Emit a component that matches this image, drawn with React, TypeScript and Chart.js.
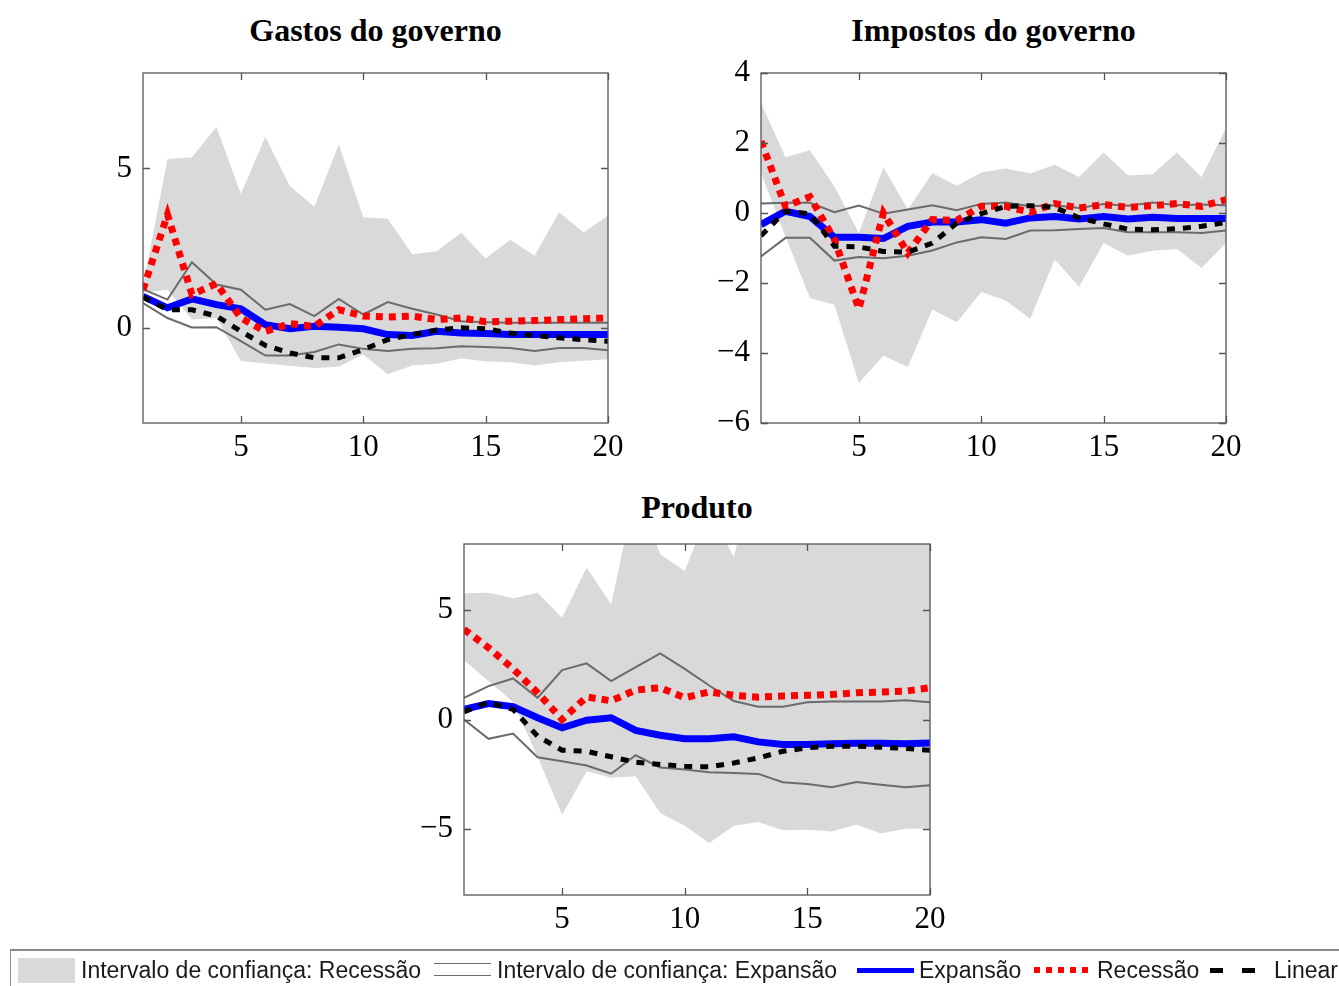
import React, { useEffect, useRef, useState } from 'react';
import { Chart, registerables } from 'chart.js';

Chart.register(...registerables);

// ---------- data ----------
const periods = [1, 2, 3, 4, 5, 6, 7, 8, 9, 10, 11, 12, 13, 14, 15, 16, 17, 18, 19, 20];
const xTickValues = [5, 10, 15, 20];

// Gastos do governo
const gastosYTicks = [0, 5];
const gastosBandUpper = [1.3, 5.3, 5.35, 6.3, 4.2, 6.0, 4.45, 3.8, 5.75, 3.47, 3.42, 2.3, 2.4, 2.98, 2.17, 2.76, 2.26, 3.62, 2.99, 3.52];
const gastosBandLower = [1.1, 1.19, 0.25, 0.3, -1.05, -1.13, -1.2, -1.27, -1.23, -0.85, -1.47, -1.19, -1.14, -0.97, -1.06, -1.09, -1.19, -1.09, -1.04, -1.0];
const gastosCiUpper = [1.21, 0.88, 2.05, 1.35, 1.19, 0.56, 0.74, 0.36, 0.9, 0.41, 0.8, 0.59, 0.41, 0.2, 0.17, 0.15, 0.15, 0.15, 0.15, 0.15];
const gastosCiLower = [0.77, 0.3, 0.0, 0.01, -0.43, -0.88, -0.88, -0.77, -0.53, -0.67, -0.74, -0.67, -0.65, -0.59, -0.61, -0.64, -0.74, -0.64, -0.64, -0.71];
const gastosExpansao = [0.98, 0.62, 0.9, 0.72, 0.59, 0.09, -0.04, 0.04, 0.01, -0.04, -0.22, -0.25, -0.12, -0.17, -0.19, -0.22, -0.22, -0.22, -0.22, -0.22];
const gastosRecessao = [1.19, 3.55, 1.04, 1.38, 0.3, -0.12, 0.12, 0.04, 0.56, 0.36, 0.33, 0.36, 0.25, 0.3, 0.18, 0.2, 0.22, 0.25, 0.28, 0.3];
const gastosLinear = [0.96, 0.56, 0.56, 0.36, -0.12, -0.56, -0.8, -0.95, -0.95, -0.69, -0.38, -0.22, -0.08, -0.01, -0.04, -0.17, -0.25, -0.32, -0.38, -0.43];

// Impostos do governo
const impostosYTicks = [-6, -4, -2, 0, 2, 4];
const impostosBandUpper = [3.14, 1.59, 1.79, 0.76, -0.57, 1.31, 0.1, 1.14, 0.78, 1.16, 1.27, 1.13, 1.38, 1.03, 1.73, 1.07, 1.11, 1.73, 1.02, 2.43];
const impostosBandLower = [1.14, -0.67, -2.43, -2.62, -4.86, -4.08, -4.4, -2.76, -3.12, -2.26, -2.5, -3.02, -1.33, -2.11, -0.86, -1.22, -1.08, -1.03, -1.57, -0.86];
const impostosCiUpper = [0.27, 0.29, 0.29, 0.02, 0.21, -0.02, 0.1, 0.22, 0.08, 0.26, 0.3, 0.19, 0.22, 0.14, 0.26, 0.21, 0.3, 0.22, 0.24, 0.22];
const impostosCiLower = [-1.24, -0.71, -0.71, -1.36, -1.26, -1.29, -1.22, -1.07, -0.84, -0.69, -0.74, -0.5, -0.49, -0.46, -0.43, -0.55, -0.55, -0.55, -0.57, -0.5];
const impostosExpansao = [-0.33, 0.05, -0.1, -0.69, -0.69, -0.73, -0.38, -0.26, -0.26, -0.19, -0.29, -0.14, -0.1, -0.17, -0.1, -0.17, -0.12, -0.16, -0.16, -0.16];
const impostosRecessao = [2.05, 0.19, 0.46, -0.76, -2.74, 0.0, -1.14, -0.19, -0.21, 0.19, 0.19, 0.02, 0.27, 0.14, 0.24, 0.16, 0.21, 0.27, 0.19, 0.38];
const impostosLinear = [-0.65, 0.05, -0.02, -0.95, -0.97, -1.1, -1.12, -0.86, -0.29, -0.02, 0.19, 0.21, 0.16, -0.14, -0.31, -0.46, -0.48, -0.45, -0.38, -0.27];

// Produto
const produtoYTicks = [-5, 0, 5];
const produtoBandUpper = [5.75, 5.78, 5.53, 5.78, 4.64, 6.93, 5.25, 10.5, 7.53, 6.77, 9.6, 7.4, 12, 11, 10.5, 11, 10, 10.5, 10, 10.5];
const produtoBandLower = [2.7, 1.75, 0.8, -1.7, -4.34, -2.36, -2.66, -2.59, -4.26, -4.84, -5.63, -4.84, -4.67, -5.05, -5.02, -5.1, -4.79, -5.2, -4.98, -4.98];
const produtoCiUpper = [0.99, 1.52, 1.87, 0.99, 2.25, 2.56, 1.75, 2.39, 3.01, 2.31, 1.55, 0.84, 0.58, 0.58, 0.79, 0.82, 0.82, 0.82, 0.88, 0.79];
const produtoCiLower = [0.0, -0.88, -0.64, -1.72, -1.9, -2.1, -2.47, -1.63, -2.19, -2.28, -2.4, -2.44, -2.48, -2.86, -2.94, -3.09, -2.85, -2.97, -3.09, -3.0];
const produtoExpansao = [0.46, 0.73, 0.58, 0.08, -0.38, -0.03, 0.08, -0.5, -0.72, -0.88, -0.88, -0.79, -1.02, -1.14, -1.14, -1.11, -1.08, -1.08, -1.11, -1.07];
const produtoRecessao = [4.11, 3.27, 2.31, 1.22, 0.0, 1.03, 0.85, 1.34, 1.45, 0.99, 1.26, 1.1, 1.02, 1.07, 1.1, 1.14, 1.22, 1.25, 1.29, 1.45];
const produtoLinear = [0.35, 0.79, 0.46, -0.76, -1.4, -1.45, -1.7, -1.95, -2.05, -2.13, -2.16, -1.98, -1.75, -1.45, -1.29, -1.22, -1.22, -1.26, -1.32, -1.4];

const legendLabels = [
  'Intervalo de confiança: Recessão',
  'Intervalo de confiança: Expansão',
  'Expansão',
  'Recessão',
  'Linear',
];

// ---------- styles ----------
const SERIF = "'Liberation Serif', 'Times New Roman', serif";
const SANS = "'Liberation Sans', Arial, Helvetica, sans-serif";
const BAND = '#d9d9d9';
const CI = '#6b6b6b';
const FRAME = '#555555';

const fmt = (v: number) => (v < 0 ? '\u2212' + Math.abs(v) : String(v));

const frameTicks = {
  id: 'frameTicks',
  afterDatasetsDraw(chart: any) {
    const ctx = chart.ctx;
    const a = chart.chartArea;
    const sx = chart.scales.x;
    const sy = chart.scales.y;
    const len = 7;
    ctx.save();
    ctx.strokeStyle = FRAME;
    ctx.lineWidth = 1.3;
    ctx.setLineDash([]);
    ctx.beginPath();
    sx.ticks.forEach((t: any) => {
      const px = Math.round(sx.getPixelForValue(t.value)) + 0.5;
      ctx.moveTo(px, a.bottom);
      ctx.lineTo(px, a.bottom - len);
      ctx.moveTo(px, a.top);
      ctx.lineTo(px, a.top + len);
    });
    sy.ticks.forEach((t: any) => {
      const py = Math.round(sy.getPixelForValue(t.value)) + 0.5;
      ctx.moveTo(a.left, py);
      ctx.lineTo(a.left + len, py);
      ctx.moveTo(a.right, py);
      ctx.lineTo(a.right - len, py);
    });
    ctx.stroke();
    ctx.strokeRect(a.left, a.top, a.right - a.left, a.bottom - a.top);
    ctx.restore();
  },
};

function Panel(p: any) {
  const ref = useRef<HTMLCanvasElement>(null);
  const [err, setErr] = useState('');
  useEffect(() => {
    let chart: any = null;
    try {
      const toXY = (arr: number[]) => arr.map((y, i) => ({ x: periods[i], y }));
      const clear = 'rgba(0,0,0,0)';
      chart = new Chart(ref.current as HTMLCanvasElement, {
        type: 'line',
        data: {
          datasets: [
            { label: 'bandLower', data: toXY(p.bandLower), borderColor: clear, borderWidth: 0, pointRadius: 0, fill: false, order: 10 },
            { label: 'bandUpper', data: toXY(p.bandUpper), borderColor: clear, borderWidth: 0, pointRadius: 0, fill: '-1', backgroundColor: BAND, order: 9 },
            { label: 'ciUpper', data: toXY(p.ciUpper), borderColor: CI, borderWidth: 2, pointRadius: 0, fill: false, order: 5 },
            { label: 'ciLower', data: toXY(p.ciLower), borderColor: CI, borderWidth: 2, pointRadius: 0, fill: false, order: 5 },
            { label: 'Expansão', data: toXY(p.expansao), borderColor: '#0000ff', borderWidth: 7, pointRadius: 0, fill: false, order: 3 },
            { label: 'Recessão', data: toXY(p.recessao), borderColor: '#ff0000', borderWidth: 7, borderDash: [7, 6], pointRadius: 0, fill: false, order: 2 },
            { label: 'Linear', data: toXY(p.linear), borderColor: '#000000', borderWidth: 5, borderDash: [8, 8], pointRadius: 0, fill: false, order: 1 },
          ],
        },
        options: {
          responsive: false,
          animation: false,
          layout: { padding: { top: p.plotTop - p.top, right: p.left + p.width - p.plotRight, left: 0, bottom: 0 } },
          plugins: { legend: { display: false }, tooltip: { enabled: false }, title: { display: false } },
          elements: { line: { tension: 0 }, point: { radius: 0 } },
          scales: {
            x: {
              type: 'linear',
              min: 1,
              max: 20,
              afterBuildTicks: (s: any) => {
                s.ticks = xTickValues.map((v) => ({ value: v }));
              },
              afterFit: (s: any) => {
                s.height = p.top + p.height - p.plotBottom;
              },
              ticks: { font: { family: SERIF, size: 31 }, color: '#000', padding: 6, autoSkip: false, maxRotation: 0, callback: (v: any) => fmt(Number(v)) },
              grid: { display: false, drawTicks: false },
              border: { display: false },
            },
            y: {
              type: 'linear',
              min: p.yMin,
              max: p.yMax,
              afterBuildTicks: (s: any) => {
                s.ticks = p.yTicks.map((v: number) => ({ value: v }));
              },
              afterFit: (s: any) => {
                s.width = p.plotLeft - p.left;
              },
              ticks: { font: { family: SERIF, size: 31 }, color: '#000', padding: 11, autoSkip: false, callback: (v: any) => fmt(Number(v)) },
              grid: { display: false, drawTicks: false },
              border: { display: false },
            },
          },
        } as any,
        plugins: [frameTicks as any],
      });
    } catch (e: any) {
      setErr(String(e && e.stack ? e.stack : e));
    }
    return () => {
      if (chart) chart.destroy();
    };
  }, []);
  return (
    <div>
      <div
        style={{
          position: 'absolute',
          left: p.plotLeft - 40,
          width: p.plotRight - p.plotLeft + 80,
          top: p.titleTop,
          textAlign: 'center',
          fontFamily: SERIF,
          fontWeight: 'bold',
          fontSize: 32,
          lineHeight: '36px',
          color: '#000',
          whiteSpace: 'nowrap',
        }}
      >
        {p.title}
      </div>
      {err ? (
        <div style={{ position: 'absolute', left: p.left, top: p.top + 40, width: 500, fontSize: 12, whiteSpace: 'pre-wrap', color: 'purple' }}>{err}</div>
      ) : null}
      <canvas
        ref={ref}
        width={p.width}
        height={p.height}
        style={{ position: 'absolute', left: p.left, top: p.top, width: p.width, height: p.height }}
      />
    </div>
  );
}

const textStyle = {
  position: 'absolute' as const,
  top: 957,
  fontFamily: SANS,
  fontSize: 23,
  lineHeight: '26px',
  color: '#1a1a1a',
  whiteSpace: 'nowrap' as const,
};

export default function App() {
  return (
    <div>
      <Panel
        title="Gastos do governo"
        left={40}
        top={40}
        width={608}
        height={430}
        plotLeft={143}
        plotRight={608}
        plotTop={73}
        plotBottom={423}
        titleTop={12}
        yMin={-3}
        yMax={8}
        yTicks={gastosYTicks}
        bandUpper={gastosBandUpper}
        bandLower={gastosBandLower}
        ciUpper={gastosCiUpper}
        ciLower={gastosCiLower}
        expansao={gastosExpansao}
        recessao={gastosRecessao}
        linear={gastosLinear}
      />
      <Panel
        title="Impostos do governo"
        left={660}
        top={40}
        width={606}
        height={430}
        plotLeft={761}
        plotRight={1226}
        plotTop={73}
        plotBottom={423}
        titleTop={12}
        yMin={-6}
        yMax={4}
        yTicks={impostosYTicks}
        bandUpper={impostosBandUpper}
        bandLower={impostosBandLower}
        ciUpper={impostosCiUpper}
        ciLower={impostosCiLower}
        expansao={impostosExpansao}
        recessao={impostosRecessao}
        linear={impostosLinear}
      />
      <Panel
        title="Produto"
        left={360}
        top={505}
        width={610}
        height={447}
        plotLeft={464}
        plotRight={930}
        plotTop={544}
        plotBottom={895}
        titleTop={489}
        yMin={-8}
        yMax={8}
        yTicks={produtoYTicks}
        bandUpper={produtoBandUpper}
        bandLower={produtoBandLower}
        ciUpper={produtoCiUpper}
        ciLower={produtoCiLower}
        expansao={produtoExpansao}
        recessao={produtoRecessao}
        linear={produtoLinear}
      />

      <div
        style={{
          position: 'absolute',
          left: 10,
          top: 949,
          width: 1329,
          height: 37,
          boxSizing: 'border-box',
          borderTop: '2px solid #8a8a8a',
          borderLeft: '1.5px solid #8a8a8a',
        }}
      />
      <div style={{ position: 'absolute', left: 18, top: 958, width: 57, height: 25, background: BAND }} />
      <div style={{ ...textStyle, left: 81 }}>{legendLabels[0]}</div>
      <div
        style={{
          position: 'absolute',
          left: 434,
          top: 963,
          width: 57,
          height: 13,
          boxSizing: 'border-box',
          borderTop: '1.5px solid ' + CI,
          borderBottom: '1.5px solid ' + CI,
        }}
      />
      <div style={{ ...textStyle, left: 497 }}>{legendLabels[1]}</div>
      <div style={{ position: 'absolute', left: 857, top: 968, width: 57, height: 5, background: '#0000ff' }} />
      <div style={{ ...textStyle, left: 919 }}>{legendLabels[2]}</div>
      <div
        style={{
          position: 'absolute',
          left: 1034,
          top: 967,
          width: 58,
          height: 6,
          background: 'repeating-linear-gradient(to right, #ff0000 0px, #ff0000 6px, rgba(0,0,0,0) 6px, rgba(0,0,0,0) 12px)',
        }}
      />
      <div style={{ ...textStyle, left: 1097 }}>{legendLabels[3]}</div>
      <div
        style={{
          position: 'absolute',
          left: 1210,
          top: 968,
          width: 45,
          height: 5,
          background: 'repeating-linear-gradient(to right, #000 0px, #000 13px, rgba(0,0,0,0) 13px, rgba(0,0,0,0) 32px)',
        }}
      />
      <div style={{ ...textStyle, left: 1274 }}>{legendLabels[4]}</div>
    </div>
  );
}
